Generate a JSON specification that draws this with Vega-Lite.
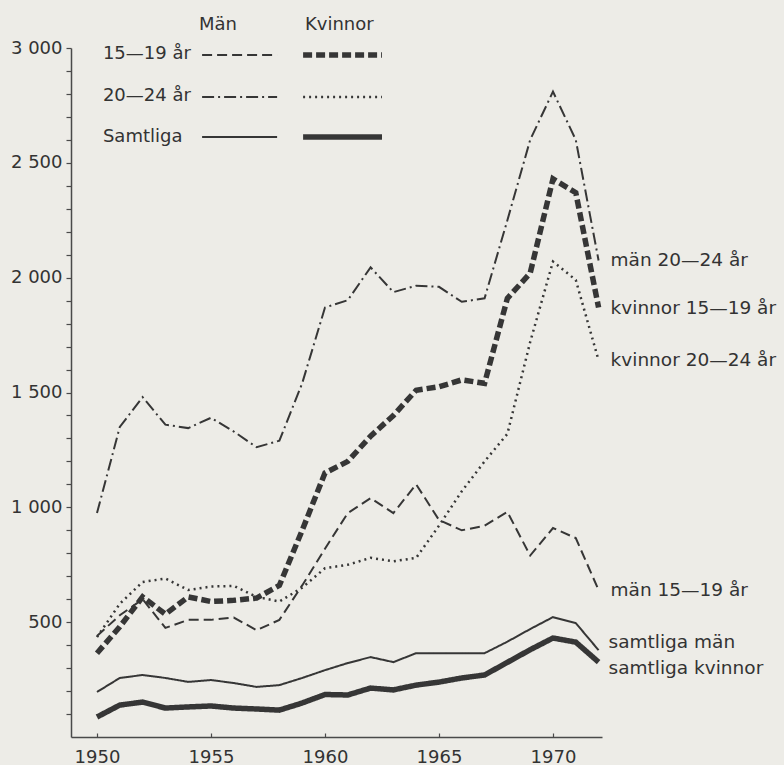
{
  "$schema": "https://vega.github.io/schema/vega-lite/v6.json",
  "autosize": "none",
  "width": 531,
  "height": 689,
  "padding": {"left": 71, "top": 48, "right": 182, "bottom": 28},
  "background": "#edece7",
  "config": {
    "view": {"stroke": null},
    "font": "DejaVu Sans",
    "axis": {"grid": false, "labelFont": "DejaVu Sans", "labelFontSize": 18, "labelColor": "#333333", "domainColor": "#4a4a4a", "domainWidth": 1.5, "tickColor": "#4a4a4a", "tickWidth": 1.2, "title": null, "labelOverlap": false, "labelBound": false}
  },
  "resolve": {"axis": {"y": "independent"}},
  "datasets": {
    "series": [
      {"year": 1950, "series": "män 20—24 år", "value": 975},
      {"year": 1951, "series": "män 20—24 år", "value": 1350},
      {"year": 1952, "series": "män 20—24 år", "value": 1480},
      {"year": 1953, "series": "män 20—24 år", "value": 1360},
      {"year": 1954, "series": "män 20—24 år", "value": 1345},
      {"year": 1955, "series": "män 20—24 år", "value": 1390},
      {"year": 1956, "series": "män 20—24 år", "value": 1330},
      {"year": 1957, "series": "män 20—24 år", "value": 1262},
      {"year": 1958, "series": "män 20—24 år", "value": 1290},
      {"year": 1959, "series": "män 20—24 år", "value": 1540},
      {"year": 1960, "series": "män 20—24 år", "value": 1870},
      {"year": 1961, "series": "män 20—24 år", "value": 1902},
      {"year": 1962, "series": "män 20—24 år", "value": 2045},
      {"year": 1963, "series": "män 20—24 år", "value": 1937},
      {"year": 1964, "series": "män 20—24 år", "value": 1965},
      {"year": 1965, "series": "män 20—24 år", "value": 1960},
      {"year": 1966, "series": "män 20—24 år", "value": 1895},
      {"year": 1967, "series": "män 20—24 år", "value": 1910},
      {"year": 1968, "series": "män 20—24 år", "value": 2250},
      {"year": 1969, "series": "män 20—24 år", "value": 2600},
      {"year": 1970, "series": "män 20—24 år", "value": 2810},
      {"year": 1971, "series": "män 20—24 år", "value": 2600},
      {"year": 1972, "series": "män 20—24 år", "value": 2075},

      {"year": 1950, "series": "kvinnor 15—19 år", "value": 365},
      {"year": 1951, "series": "kvinnor 15—19 år", "value": 480},
      {"year": 1952, "series": "kvinnor 15—19 år", "value": 610},
      {"year": 1953, "series": "kvinnor 15—19 år", "value": 535},
      {"year": 1954, "series": "kvinnor 15—19 år", "value": 610},
      {"year": 1955, "series": "kvinnor 15—19 år", "value": 590},
      {"year": 1956, "series": "kvinnor 15—19 år", "value": 595},
      {"year": 1957, "series": "kvinnor 15—19 år", "value": 605},
      {"year": 1958, "series": "kvinnor 15—19 år", "value": 660},
      {"year": 1959, "series": "kvinnor 15—19 år", "value": 900},
      {"year": 1960, "series": "kvinnor 15—19 år", "value": 1150},
      {"year": 1961, "series": "kvinnor 15—19 år", "value": 1200},
      {"year": 1962, "series": "kvinnor 15—19 år", "value": 1310},
      {"year": 1963, "series": "kvinnor 15—19 år", "value": 1400},
      {"year": 1964, "series": "kvinnor 15—19 år", "value": 1510},
      {"year": 1965, "series": "kvinnor 15—19 år", "value": 1525},
      {"year": 1966, "series": "kvinnor 15—19 år", "value": 1555},
      {"year": 1967, "series": "kvinnor 15—19 år", "value": 1540},
      {"year": 1968, "series": "kvinnor 15—19 år", "value": 1910},
      {"year": 1969, "series": "kvinnor 15—19 år", "value": 2020},
      {"year": 1970, "series": "kvinnor 15—19 år", "value": 2430},
      {"year": 1971, "series": "kvinnor 15—19 år", "value": 2370},
      {"year": 1972, "series": "kvinnor 15—19 år", "value": 1870},

      {"year": 1950, "series": "kvinnor 20—24 år", "value": 435},
      {"year": 1951, "series": "kvinnor 20—24 år", "value": 580},
      {"year": 1952, "series": "kvinnor 20—24 år", "value": 675},
      {"year": 1953, "series": "kvinnor 20—24 år", "value": 690},
      {"year": 1954, "series": "kvinnor 20—24 år", "value": 640},
      {"year": 1955, "series": "kvinnor 20—24 år", "value": 655},
      {"year": 1956, "series": "kvinnor 20—24 år", "value": 658},
      {"year": 1957, "series": "kvinnor 20—24 år", "value": 610},
      {"year": 1958, "series": "kvinnor 20—24 år", "value": 590},
      {"year": 1959, "series": "kvinnor 20—24 år", "value": 650},
      {"year": 1960, "series": "kvinnor 20—24 år", "value": 735},
      {"year": 1961, "series": "kvinnor 20—24 år", "value": 750},
      {"year": 1962, "series": "kvinnor 20—24 år", "value": 780},
      {"year": 1963, "series": "kvinnor 20—24 år", "value": 765},
      {"year": 1964, "series": "kvinnor 20—24 år", "value": 780},
      {"year": 1965, "series": "kvinnor 20—24 år", "value": 920},
      {"year": 1966, "series": "kvinnor 20—24 år", "value": 1070},
      {"year": 1967, "series": "kvinnor 20—24 år", "value": 1200},
      {"year": 1968, "series": "kvinnor 20—24 år", "value": 1320},
      {"year": 1969, "series": "kvinnor 20—24 år", "value": 1720},
      {"year": 1970, "series": "kvinnor 20—24 år", "value": 2070},
      {"year": 1971, "series": "kvinnor 20—24 år", "value": 1990},
      {"year": 1972, "series": "kvinnor 20—24 år", "value": 1640},

      {"year": 1950, "series": "män 15—19 år", "value": 440},
      {"year": 1951, "series": "män 15—19 år", "value": 530},
      {"year": 1952, "series": "män 15—19 år", "value": 600},
      {"year": 1953, "series": "män 15—19 år", "value": 475},
      {"year": 1954, "series": "män 15—19 år", "value": 510},
      {"year": 1955, "series": "män 15—19 år", "value": 510},
      {"year": 1956, "series": "män 15—19 år", "value": 520},
      {"year": 1957, "series": "män 15—19 år", "value": 465},
      {"year": 1958, "series": "män 15—19 år", "value": 510},
      {"year": 1959, "series": "män 15—19 år", "value": 660},
      {"year": 1960, "series": "män 15—19 år", "value": 820},
      {"year": 1961, "series": "män 15—19 år", "value": 975},
      {"year": 1962, "series": "män 15—19 år", "value": 1040},
      {"year": 1963, "series": "män 15—19 år", "value": 975},
      {"year": 1964, "series": "män 15—19 år", "value": 1100},
      {"year": 1965, "series": "män 15—19 år", "value": 945},
      {"year": 1966, "series": "män 15—19 år", "value": 900},
      {"year": 1967, "series": "män 15—19 år", "value": 920},
      {"year": 1968, "series": "män 15—19 år", "value": 980},
      {"year": 1969, "series": "män 15—19 år", "value": 790},
      {"year": 1970, "series": "män 15—19 år", "value": 910},
      {"year": 1971, "series": "män 15—19 år", "value": 866},
      {"year": 1972, "series": "män 15—19 år", "value": 640},

      {"year": 1950, "series": "samtliga män", "value": 196},
      {"year": 1951, "series": "samtliga män", "value": 257},
      {"year": 1952, "series": "samtliga män", "value": 270},
      {"year": 1953, "series": "samtliga män", "value": 257},
      {"year": 1954, "series": "samtliga män", "value": 240},
      {"year": 1955, "series": "samtliga män", "value": 248},
      {"year": 1956, "series": "samtliga män", "value": 235},
      {"year": 1957, "series": "samtliga män", "value": 218},
      {"year": 1958, "series": "samtliga män", "value": 226},
      {"year": 1959, "series": "samtliga män", "value": 257},
      {"year": 1960, "series": "samtliga män", "value": 291},
      {"year": 1961, "series": "samtliga män", "value": 322},
      {"year": 1962, "series": "samtliga män", "value": 348},
      {"year": 1963, "series": "samtliga män", "value": 326},
      {"year": 1964, "series": "samtliga män", "value": 365},
      {"year": 1965, "series": "samtliga män", "value": 365},
      {"year": 1966, "series": "samtliga män", "value": 365},
      {"year": 1967, "series": "samtliga män", "value": 365},
      {"year": 1968, "series": "samtliga män", "value": 415},
      {"year": 1969, "series": "samtliga män", "value": 470},
      {"year": 1970, "series": "samtliga män", "value": 522},
      {"year": 1971, "series": "samtliga män", "value": 496},
      {"year": 1972, "series": "samtliga män", "value": 378},

      {"year": 1950, "series": "samtliga kvinnor", "value": 87},
      {"year": 1951, "series": "samtliga kvinnor", "value": 139},
      {"year": 1952, "series": "samtliga kvinnor", "value": 152},
      {"year": 1953, "series": "samtliga kvinnor", "value": 126},
      {"year": 1954, "series": "samtliga kvinnor", "value": 131},
      {"year": 1955, "series": "samtliga kvinnor", "value": 135},
      {"year": 1956, "series": "samtliga kvinnor", "value": 126},
      {"year": 1957, "series": "samtliga kvinnor", "value": 122},
      {"year": 1958, "series": "samtliga kvinnor", "value": 117},
      {"year": 1959, "series": "samtliga kvinnor", "value": 148},
      {"year": 1960, "series": "samtliga kvinnor", "value": 185},
      {"year": 1961, "series": "samtliga kvinnor", "value": 183},
      {"year": 1962, "series": "samtliga kvinnor", "value": 213},
      {"year": 1963, "series": "samtliga kvinnor", "value": 205},
      {"year": 1964, "series": "samtliga kvinnor", "value": 226},
      {"year": 1965, "series": "samtliga kvinnor", "value": 239},
      {"year": 1966, "series": "samtliga kvinnor", "value": 257},
      {"year": 1967, "series": "samtliga kvinnor", "value": 270},
      {"year": 1968, "series": "samtliga kvinnor", "value": 325},
      {"year": 1969, "series": "samtliga kvinnor", "value": 380},
      {"year": 1970, "series": "samtliga kvinnor", "value": 431},
      {"year": 1971, "series": "samtliga kvinnor", "value": 413},
      {"year": 1972, "series": "samtliga kvinnor", "value": 326}
    ],
    "legendLines": [
      {"series": "män 15—19 år", "year": 1954.61, "value": 2970},
      {"series": "män 15—19 år", "year": 1957.9, "value": 2970},
      {"series": "kvinnor 15—19 år", "year": 1959.04, "value": 2970},
      {"series": "kvinnor 15—19 år", "year": 1962.5, "value": 2970},
      {"series": "män 20—24 år", "year": 1954.61, "value": 2787},
      {"series": "män 20—24 år", "year": 1957.9, "value": 2787},
      {"series": "kvinnor 20—24 år", "year": 1959.04, "value": 2787},
      {"series": "kvinnor 20—24 år", "year": 1962.5, "value": 2787},
      {"series": "samtliga män", "year": 1954.61, "value": 2612},
      {"series": "samtliga män", "year": 1957.9, "value": 2612},
      {"series": "samtliga kvinnor", "year": 1959.04, "value": 2612},
      {"series": "samtliga kvinnor", "year": 1962.5, "value": 2612}
    ],
    "legendText": [
      {"text": "Män", "year": 1954.47, "value": 3100},
      {"text": "Kvinnor", "year": 1959.12, "value": 3100},
      {"text": "15—19 år", "year": 1950.26, "value": 2975},
      {"text": "20—24 år", "year": 1950.26, "value": 2792},
      {"text": "Samtliga", "year": 1950.26, "value": 2612}
    ]
  },
  "layer": [
    {
      "data": {"name": "series"},
      "mark": {"type": "line", "color": "#363636", "strokeCap": "butt", "strokeJoin": "miter"},
      "encoding": {
        "x": {"field": "year", "type": "quantitative", "scale": {"domain": [1948.86, 1972.15], "nice": false, "zero": false},
          "axis": {"values": [1950, 1955, 1960, 1965, 1970], "format": "d", "tickSize": -4, "labelPadding": 15, "labelFlush": false}},
        "y": {"field": "value", "type": "quantitative", "scale": {"domain": [0, 3000], "nice": false},
          "axis": {"orient": "left", "values": [500, 1000, 1500, 2000, 2500, 3000],
            "labelExpr": "replace(format(datum.value, ','), ',', ' ')",
            "labelOverlap": false, "labelBound": false, "labelFlush": false, "tickSize": 5, "labelPadding": 4}},
        "detail": {"field": "series"},
        "strokeDash": {"field": "series", "type": "nominal", "legend": null,
          "scale": {"type": "ordinal", "domain": ["män 15—19 år", "kvinnor 15—19 år", "män 20—24 år", "kvinnor 20—24 år", "samtliga män", "samtliga kvinnor"],
            "range": [[10, 5], [9, 4], [12, 4, 2, 4], [2, 4], [1, 0], [1, 0]]}},
        "strokeWidth": {"field": "series", "type": "nominal", "legend": null,
          "scale": {"type": "ordinal", "domain": ["män 15—19 år", "kvinnor 15—19 år", "män 20—24 år", "kvinnor 20—24 år", "samtliga män", "samtliga kvinnor"],
            "range": [2, 5.5, 2, 2.5, 2, 5.5]}}
      }
    },
    {
      "data": {"name": "legendLines"},
      "mark": {"type": "line", "color": "#363636", "strokeCap": "butt", "clip": false},
      "encoding": {
        "x": {"field": "year", "type": "quantitative"},
        "y": {"field": "value", "type": "quantitative",
          "axis": {"orient": "left", "values": [100,200,300,400,600,700,800,900,1100,1200,1300,1400,1600,1700,1800,1900,2100,2200,2300,2400,2600,2700,2800,2900],
            "labels": false, "domain": false, "tickSize": 5}},
        "detail": {"field": "series"},
        "strokeDash": {"field": "series", "type": "nominal", "legend": null,
          "scale": {"type": "ordinal", "domain": ["män 15—19 år", "kvinnor 15—19 år", "män 20—24 år", "kvinnor 20—24 år", "samtliga män", "samtliga kvinnor"],
            "range": [[10, 5], [9, 4], [12, 4, 2, 4], [2, 4], [1, 0], [1, 0]]}},
        "strokeWidth": {"field": "series", "type": "nominal", "legend": null,
          "scale": {"type": "ordinal", "domain": ["män 15—19 år", "kvinnor 15—19 år", "män 20—24 år", "kvinnor 20—24 år", "samtliga män", "samtliga kvinnor"],
            "range": [2, 5.5, 2, 2.5, 2, 5.5]}}
      }
    },
    {
      "data": {"name": "legendText"},
      "mark": {"type": "text", "align": "left", "baseline": "middle", "font": "DejaVu Sans", "fontSize": 18, "color": "#333333"},
      "encoding": {
        "x": {"field": "year", "type": "quantitative"},
        "y": {"field": "value", "type": "quantitative", "axis": null},
        "text": {"field": "text"}
      }
    },
    {
      "data": {"name": "series"},
      "transform": [{"filter": "datum.year === 1972 && datum.series !== 'samtliga män' && datum.series !== 'samtliga kvinnor'"}],
      "mark": {"type": "text", "align": "left", "baseline": "middle", "dx": 12, "font": "DejaVu Sans", "fontSize": 18.5, "color": "#333333"},
      "encoding": {
        "x": {"field": "year", "type": "quantitative"},
        "y": {"field": "value", "type": "quantitative", "axis": null},
        "text": {"field": "series"}
      }
    },
    {
      "data": {"name": "series"},
      "transform": [{"filter": "datum.year === 1972 && datum.series === 'samtliga män'"}],
      "mark": {"type": "text", "align": "left", "baseline": "middle", "dx": 10, "dy": -8, "font": "DejaVu Sans", "fontSize": 18.5, "color": "#333333"},
      "encoding": {
        "x": {"field": "year", "type": "quantitative"},
        "y": {"field": "value", "type": "quantitative", "axis": null},
        "text": {"field": "series"}
      }
    },
    {
      "data": {"name": "series"},
      "transform": [{"filter": "datum.year === 1972 && datum.series === 'samtliga kvinnor'"}],
      "mark": {"type": "text", "align": "left", "baseline": "middle", "dx": 10, "dy": 6, "font": "DejaVu Sans", "fontSize": 18.5, "color": "#333333"},
      "encoding": {
        "x": {"field": "year", "type": "quantitative"},
        "y": {"field": "value", "type": "quantitative", "axis": null},
        "text": {"field": "series"}
      }
    }
  ]
}
